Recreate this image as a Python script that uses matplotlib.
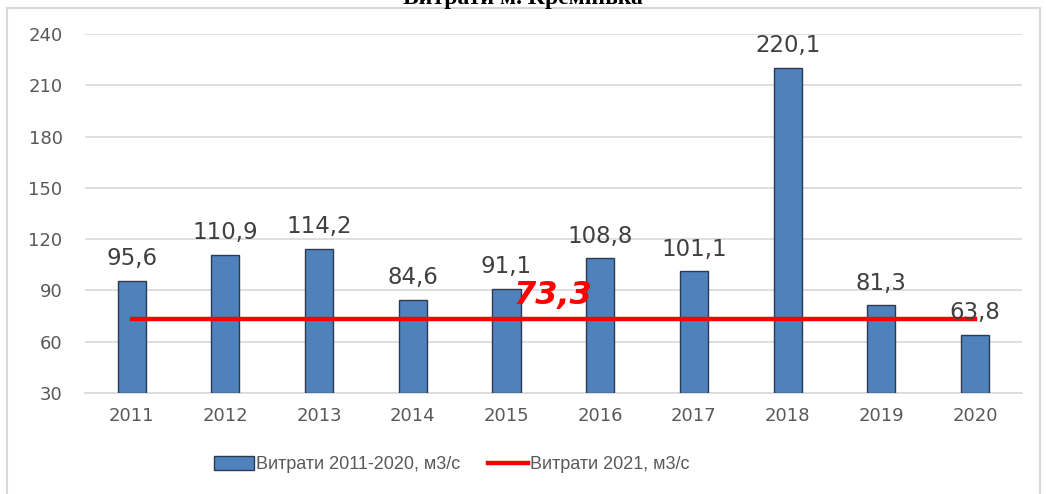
import matplotlib.pyplot as plt
from matplotlib.patches import Rectangle

years = ['2011', '2012', '2013', '2014', '2015', '2016', '2017', '2018', '2019', '2020']
flow_2011_2020 = [95.6, 110.9, 114.2, 84.6, 91.1, 108.8, 101.1, 220.1, 81.3, 63.8]
flow_2021 = 73.3
yticks = [30, 60, 90, 120, 150, 180, 210, 240]

TXT = '#595959'

fig = plt.figure(figsize=(10.46, 4.94), dpi=100)
ax = fig.add_axes([0.081, 0.2045, 0.896, 0.7265])

x = list(range(len(years)))
bars = ax.bar(x, [v - 30 for v in flow_2011_2020], bottom=30, width=0.3,
              color='#4F81BD', edgecolor='#2B3A4F', linewidth=1.0, zorder=3,
              label='Витрати 2011-2020, м3/с')
line, = ax.plot([x[0], x[-1]], [flow_2021, flow_2021], color='#FF0000', lw=3.2,
                zorder=4, label='Витрати 2021, м3/с')

for xi, v in zip(x, flow_2011_2020):
    ax.annotate(f'{v:.1f}'.replace('.', ','), (xi, v), xytext=(0, 16),
                textcoords='offset points', ha='center', va='center',
                fontsize=16.5, color='#404040', zorder=5)

ax.annotate(f'{flow_2021:.1f}'.replace('.', ','), (4.5, flow_2021),
            xytext=(0, 17), textcoords='offset points', ha='center',
            va='center', fontsize=23, color='#FF0000', fontweight='bold',
            fontstyle='italic', zorder=6)

ax.set_xlim(-0.5, 9.5)
ax.set_ylim(30, 240)
ax.set_yticks(yticks)
ax.set_xticks(x)
ax.set_xticklabels(years)
ax.tick_params(length=0, labelsize=13, colors=TXT, pad=10)
ax.tick_params(axis='y', pad=16)
ax.grid(axis='y', color='#D9D9D9', lw=1.2, zorder=0)
for s in ['left', 'right', 'top']:
    ax.spines[s].set_visible(False)
ax.spines['bottom'].set_color('#D9D9D9')
ax.spines['bottom'].set_linewidth(1.2)

leg = fig.legend([bars, line], [bars.get_label(), line.get_label()],
                 loc='center', bbox_to_anchor=(0.432, 0.059), ncol=2,
                 frameon=False, prop={'family': 'Liberation Sans', 'size': 13},
                 handlelength=2.2, handleheight=0.8, columnspacing=1.5,
                 handletextpad=0.15)
for t in leg.get_texts():
    t.set_color(TXT)

# outer chart border
fig.patches.append(Rectangle((7 / 1046, -0.01), 1033 / 1046, 1 - 8 / 494 + 0.01,
                             transform=fig.transFigure, fill=False,
                             edgecolor='#D9D9D9', lw=1.5))

fig.text(0.5, 1.003, 'Витрати м. Кремінька', ha='center', va='center',
         fontsize=17, fontweight='bold', family='Liberation Serif', color='black')

fig.savefig('out.png', dpi=100)
